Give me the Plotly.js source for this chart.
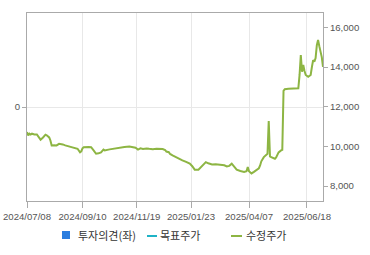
<!DOCTYPE html>
<html>
<head>
<meta charset="utf-8">
<script src="https://cdn.plot.ly/plotly-3.0.1.min.js"></script>
<style>html,body{margin:0;padding:0;background:#fff;}#chart{width:370px;height:255px;}</style>
</head>
<body>
<div id="chart"></div>
<script>
// ---- data ----
const dates = [
"2024-07-08","2024-07-09","2024-07-10","2024-07-11","2024-07-12","2024-07-16","2024-07-18","2024-07-19","2024-07-22","2024-07-23",
"2024-07-25","2024-07-29","2024-07-30","2024-08-01","2024-08-02","2024-08-05","2024-08-07","2024-08-09","2024-08-13","2024-08-16",
"2024-08-19","2024-08-21","2024-08-26","2024-08-30","2024-09-04","2024-09-06","2024-09-09","2024-09-10","2024-09-11","2024-09-20",
"2024-09-24","2024-09-26","2024-09-30","2024-10-04","2024-10-08","2024-10-11","2024-10-14","2024-10-18","2024-10-23","2024-10-28",
"2024-10-31","2024-11-05","2024-11-11","2024-11-15","2024-11-18","2024-11-20","2024-11-22","2024-11-26","2024-11-29","2024-12-03",
"2024-12-06","2024-12-11","2024-12-16","2024-12-18","2024-12-20","2024-12-23","2024-12-26","2024-12-27","2025-01-02","2025-01-06",
"2025-01-10","2025-01-14","2025-01-17","2025-01-22","2025-01-24","2025-02-03","2025-02-06","2025-02-10","2025-02-12","2025-02-14",
"2025-02-18","2025-02-21","2025-02-26","2025-03-05","2025-03-10","2025-03-12","2025-03-14","2025-03-18","2025-03-20","2025-03-24",
"2025-03-27","2025-04-01","2025-04-03","2025-04-04","2025-04-07","2025-04-09","2025-04-11","2025-04-15","2025-04-17","2025-04-18",
"2025-04-21","2025-04-23","2025-04-25","2025-04-28","2025-04-29","2025-04-30","2025-05-02","2025-05-08","2025-05-09","2025-05-12",
"2025-05-14","2025-05-16","2025-05-19","2025-05-20","2025-05-21","2025-05-26","2025-06-02","2025-06-09","2025-06-10","2025-06-11",
"2025-06-12","2025-06-13","2025-06-16","2025-06-17","2025-06-19","2025-06-20","2025-06-23","2025-06-24","2025-06-25","2025-06-26",
"2025-06-27","2025-06-30","2025-07-01","2025-07-02","2025-07-03","2025-07-04","2025-07-07"
];
const adjPrice = [
10720,10560,10640,10600,10640,10600,10600,10500,10420,10340,
10450,10590,10560,10450,10300,10050,10060,10050,10130,10130,
10100,10050,10000,9950,9880,9700,9750,9900,9960,9970,
9960,9800,9630,9650,9700,9840,9800,9850,9880,9900,
9960,9970,9990,9960,9930,9840,9900,9870,9900,9880,
9860,9880,9880,9870,9820,9740,9710,9620,9550,9480,
9380,9300,9220,9130,9000,8830,8830,8950,9080,9210,
9150,9090,9100,9090,9050,8990,9020,9130,8950,8830,
8760,8710,8750,8960,8750,8640,8720,8800,8900,9040,
9250,9460,9560,9630,11280,9500,9460,9400,9380,9450,
9700,9800,9830,12800,12880,12900,12930,12930,13600,14600,
13760,14100,13800,13600,13510,13560,13600,14000,14350,14270,
14450,15100,15360,15050,14800,14500,14000
];
const opinionDates = [];   // 투자의견(좌) - no values shown
const opinionValues = [];
const targetDates = [];    // 목표주가 - no values shown
const targetValues = [];
const holidays = ["2024-08-15","2024-09-16","2024-09-17","2024-09-18","2024-10-01","2024-10-03","2024-10-09",
  "2024-12-25","2024-12-31","2025-01-01","2025-01-27","2025-01-28","2025-01-29","2025-01-30","2025-03-03",
  "2025-05-01","2025-05-05","2025-05-06","2025-06-03","2025-06-06"];
const xTickVals = ["2024-07-08","2024-09-10","2024-11-19","2025-01-23","2025-04-07","2025-06-18"];
const rightTicks = [8000,10000,12000,14000,16000];
const leftTicks = [0];
const legendLabels = ["투자의견(좌)","목표주가","수정주가"];
const legendColors = ["#2b7ddf","#1fb3c6","#8db543"];

const tickFont = {family:"'Liberation Sans',Arial,sans-serif", size:9.6, color:"#555"};
const axisLine = "#aaaaaa";

const traces = [
  {type:"bar", x:opinionDates, y:opinionValues, yaxis:"y", marker:{color:legendColors[0]}, name:legendLabels[0], showlegend:false},
  {type:"scatter", mode:"lines", x:targetDates, y:targetValues, yaxis:"y2", line:{color:legendColors[1], width:2}, name:legendLabels[1], showlegend:false},
  {type:"scatter", mode:"lines", x:dates, y:adjPrice, yaxis:"y2", line:{color:legendColors[2], width:2}, name:legendLabels[2], showlegend:false}
];

// manual legend (pixel layout of reference)
const W = 296, H = 188;
function px(x){return (x-27)/W;}
function py(y){return (201-y)/H;}
const shapes = [
  {type:"rect", xref:"paper", yref:"paper", x0:px(62), x1:px(70), y0:py(239), y1:py(231), fillcolor:legendColors[0], line:{width:0}},
  {type:"line", xref:"paper", yref:"paper", x0:px(147), x1:px(157), y0:py(236), y1:py(236), line:{color:legendColors[1], width:2}},
  {type:"line", xref:"paper", yref:"paper", x0:px(231), x1:px(242), y0:py(236), y1:py(236), line:{color:legendColors[2], width:2}}
];
const legendFont = {family:"'Noto Sans CJK KR','Noto Sans',sans-serif", size:11, color:"#333"};
const annotations = [
  {xref:"paper", yref:"paper", x:px(76), y:py(235), xanchor:"left", yanchor:"middle", text:legendLabels[0], showarrow:false, font:legendFont},
  {xref:"paper", yref:"paper", x:px(158), y:py(235), xanchor:"left", yanchor:"middle", text:legendLabels[1], showarrow:false, font:legendFont},
  {xref:"paper", yref:"paper", x:px(244), y:py(235), xanchor:"left", yanchor:"middle", text:legendLabels[2], showarrow:false, font:legendFont}
];

const layout = {
  width:370, height:255,
  margin:{l:27, r:47, t:13, b:54, pad:0},
  paper_bgcolor:"#fff", plot_bgcolor:"#fff",
  showlegend:false,
  xaxis:{
    type:"date",
    range:["2024-07-08","2025-07-07"],
    rangebreaks:[{bounds:["sat","mon"]},{values:holidays}],
    tickvals:xTickVals, tickformat:"%Y/%m/%d", tickangle:0,
    ticks:"outside", ticklen:6, tickcolor:axisLine,
    showgrid:true, gridcolor:"#e8e8e8", gridwidth:1,
    showline:true, linecolor:axisLine, linewidth:1, mirror:true,
    zeroline:false, tickfont:tickFont, ticklabeloverflow:"allow", automargin:false
  },
  yaxis:{
    range:[-1,1], tickvals:leftTicks, ticktext:["0"],
    ticks:"outside", ticklen:4, tickcolor:axisLine,
    showgrid:true, gridcolor:"#e8e8e8",
    showline:true, linecolor:axisLine, linewidth:1,
    zeroline:false, tickfont:tickFont, automargin:false
  },
  yaxis2:{
    overlaying:"y", side:"right",
    range:[7250,16720], tickvals:rightTicks, tickformat:",",
    ticks:"outside", ticklen:4, tickcolor:axisLine,
    showgrid:false, showline:true, linecolor:axisLine, linewidth:1,
    zeroline:false, tickfont:tickFont, automargin:false
  },
  shapes:shapes,
  annotations:annotations
};

Plotly.newPlot("chart", traces, layout, {displayModeBar:false, staticPlot:true});
</script>
</body>
</html>
